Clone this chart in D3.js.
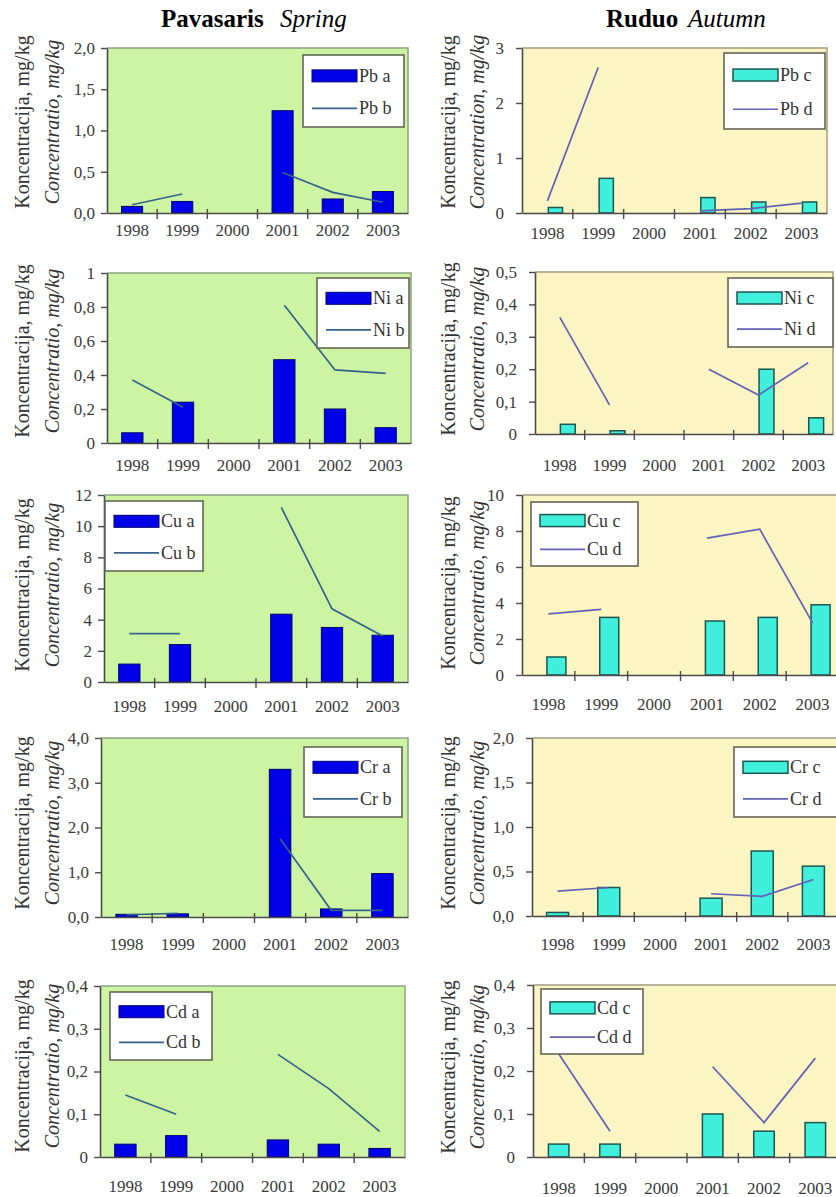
<!DOCTYPE html>
<html><head><meta charset="utf-8">
<script src="https://cdn.jsdelivr.net/npm/d3@7"></script>
<style>
body{margin:0;background:#fff}
svg{display:block}
</style>
</head><body>
<svg id="c" width="836" height="1197"></svg>
<script>
// ---------- DATA ----------
const years = ["1998","1999","2000","2001","2002","2003"];

const pbSpringBars = [0.08, 0.14, null, 1.24, 0.17, 0.26];
const pbSpringLine = [0.10, 0.23, null, 0.49, 0.25, 0.13];
const pbAutumnBars = [0.10, 0.63, null, 0.28, 0.20, 0.20];
const pbAutumnLine = [0.22, 2.65, null, 0.04, 0.08, 0.18];

const niSpringBars = [0.06, 0.24, null, 0.49, 0.20, 0.09];
const niSpringLine = [0.37, 0.21, null, 0.81, 0.43, 0.41];
const niAutumnBars = [0.03, 0.01, null, null, 0.20, 0.05];
const niAutumnLine = [0.36, 0.09, null, 0.20, 0.12, 0.22];

const cuSpringBars = [1.15, 2.4, null, 4.35, 3.5, 3.0];
const cuSpringLine = [3.1, 3.1, null, 11.2, 4.7, 2.95];
const cuAutumnBars = [1.0, 3.2, null, 3.0, 3.2, 3.9];
const cuAutumnLine = [3.4, 3.65, null, 7.6, 8.1, 2.9];

const crSpringBars = [0.06, 0.07, null, 3.3, 0.18, 0.97];
const crSpringLine = [0.05, 0.08, null, 1.75, 0.15, 0.15];
const crAutumnBars = [0.04, 0.32, null, 0.20, 0.73, 0.56];
const crAutumnLine = [0.28, 0.32, null, 0.25, 0.22, 0.41];

const cdSpringBars = [0.03, 0.05, null, 0.04, 0.03, 0.02];
const cdSpringLine = [0.145, 0.10, null, 0.24, 0.16, 0.06];
const cdAutumnBars = [0.03, 0.03, null, 0.10, 0.06, 0.08];
const cdAutumnLine = [0.24, 0.06, null, 0.21, 0.08, 0.23];

const pbSpringTicks = [0, 0.5, 1, 1.5, 2];
const pbSpringTickLabels = ["0,0","0,5","1,0","1,5","2,0"];
const pbAutumnTicks = [0, 1, 2, 3];
const pbAutumnTickLabels = ["0","1","2","3"];
const niSpringTicks = [0, 0.2, 0.4, 0.6, 0.8, 1];
const niSpringTickLabels = ["0","0,2","0,4","0,6","0,8","1"];
const niAutumnTicks = [0, 0.1, 0.2, 0.3, 0.4, 0.5];
const niAutumnTickLabels = ["0","0,1","0,2","0,3","0,4","0,5"];
const cuSpringTicks = [0, 2, 4, 6, 8, 10, 12];
const cuSpringTickLabels = ["0","2","4","6","8","10","12"];
const cuAutumnTicks = [0, 2, 4, 6, 8, 10];
const cuAutumnTickLabels = ["0","2","4","6","8","10"];
const crSpringTicks = [0, 1, 2, 3, 4];
const crSpringTickLabels = ["0,0","1,0","2,0","3,0","4,0"];
const crAutumnTicks = [0, 0.5, 1, 1.5, 2];
const crAutumnTickLabels = ["0,0","0,5","1,0","1,5","2,0"];
const cdTicks = [0, 0.1, 0.2, 0.3, 0.4];
const cdTickLabels = ["0","0,1","0,2","0,3","0,4"];

const seriesNames = {
  spring: [["Pb a","Pb b"],["Ni a","Ni b"],["Cu a","Cu b"],["Cr a","Cr b"],["Cd a","Cd b"]],
  autumn: [["Pb c","Pb d"],["Ni c","Ni d"],["Cu c","Cu d"],["Cr c","Cr d"],["Cd c","Cd d"]]
};
const yTitle1 = "Koncentracija, mg/kg";
const yTitle2 = "Concentratio, mg/kg";
const yTitle2Pb = "Concentration, mg/kg";

// ---------- PANELS ----------
const panels = [
  {col:0, bars:pbSpringBars, line:pbSpringLine, names:seriesNames.spring[0], max:2,   ticks:pbSpringTicks, labels:pbSpringTickLabels, t2:yTitle2},
  {col:1, bars:pbAutumnBars, line:pbAutumnLine, names:seriesNames.autumn[0], max:3,   ticks:pbAutumnTicks, labels:pbAutumnTickLabels, t2:yTitle2Pb},
  {col:0, bars:niSpringBars, line:niSpringLine, names:seriesNames.spring[1], max:1,   ticks:niSpringTicks, labels:niSpringTickLabels, t2:yTitle2},
  {col:1, bars:niAutumnBars, line:niAutumnLine, names:seriesNames.autumn[1], max:0.5, ticks:niAutumnTicks, labels:niAutumnTickLabels, t2:yTitle2},
  {col:0, bars:cuSpringBars, line:cuSpringLine, names:seriesNames.spring[2], max:12,  ticks:cuSpringTicks, labels:cuSpringTickLabels, t2:yTitle2},
  {col:1, bars:cuAutumnBars, line:cuAutumnLine, names:seriesNames.autumn[2], max:10,  ticks:cuAutumnTicks, labels:cuAutumnTickLabels, t2:yTitle2},
  {col:0, bars:crSpringBars, line:crSpringLine, names:seriesNames.spring[3], max:4,   ticks:crSpringTicks, labels:crSpringTickLabels, t2:yTitle2},
  {col:1, bars:crAutumnBars, line:crAutumnLine, names:seriesNames.autumn[3], max:2,   ticks:crAutumnTicks, labels:crAutumnTickLabels, t2:yTitle2},
  {col:0, bars:cdSpringBars, line:cdSpringLine, names:seriesNames.spring[4], max:0.4, ticks:cdTicks, labels:cdTickLabels, t2:yTitle2},
  {col:1, bars:cdAutumnBars, line:cdAutumnLine, names:seriesNames.autumn[4], max:0.4, ticks:cdTicks, labels:cdTickLabels, t2:yTitle2}
];

// layout (pixel geometry per panel)
const frames = [
  {x0:107, x1:408, y0:48,  y1:213,  lg:[303,55,101,72],  lab:23, bw:0.42, shift:0, tc:122},
  {x0:522, x1:827, y0:48,  y1:213,  lg:[724,53,101,76],  lab:26, bw:0.28, shift:8, tc:122},
  {x0:107, x1:411, y0:273, y1:443,  lg:[317,278,92,70],  lab:28, bw:0.42, shift:0, tc:351},
  {x0:535, x1:833, y0:272, y1:434,  lg:[728,278,105,69], lab:37, bw:0.30, shift:8, tc:349},
  {x0:104, x1:408, y0:495, y1:682,  lg:[105,501,98,70],  lab:30, bw:0.42, shift:0, tc:585},
  {x0:522, x1:839, y0:495, y1:675,  lg:[531,502,107,64], lab:35, bw:0.36, shift:8, tc:583},
  {x0:101, x1:408, y0:738, y1:917,  lg:[304,747,98,70],  lab:33, bw:0.42, shift:0, tc:823},
  {x0:532, x1:839, y0:738, y1:916,  lg:[734,747,106,70], lab:34, bw:0.43, shift:0, tc:823},
  {x0:100, x1:405, y0:986, y1:1157, lg:[110,992,102,68], lab:35, bw:0.42, shift:0, tc:1066},
  {x0:533, x1:841, y0:985, y1:1157, lg:[541,989,102,65], lab:37, bw:0.40, shift:0, tc:1067}
];

const styles = [
  {bg:"#ccf4a2", border:"#8fa184", barFill:"#0000e8", barStroke:"#00006e", barSW:1, line:"#34648c", yt:[29,59]},
  {bg:"#fbf5c4", border:"#a29c80", barFill:"#40f0dc", barStroke:"#1d5650", barSW:1.5, line:"#6262b6", yt:[455,484]}
];
const SERIF = "Liberation Serif, Times New Roman, serif";

const svg = d3.select("#c").style("font-family", SERIF);

// titles
const t1 = svg.append("text").attr("y", 27).attr("font-size", 25).attr("fill", "#000");
t1.append("tspan").attr("x", 161).attr("font-weight", "bold").text("Pavasaris");
t1.append("tspan").attr("x", 280).attr("font-style", "italic").text("Spring");
const t2 = svg.append("text").attr("y", 27).attr("font-size", 25).attr("fill", "#000");
t2.append("tspan").attr("x", 606).attr("font-weight", "bold").text("Ruduo");
t2.append("tspan").attr("x", 688).attr("font-style", "italic").text("Autumn");

panels.forEach((p, i) => {
  const f = frames[i], s = styles[p.col];
  const g = svg.append("g");
  const x = d3.scaleBand().domain(years).range([f.x0, f.x1]);
  const y = d3.scaleLinear().domain([0, p.max]).range([f.y1, f.y0]);
  const bw = x.bandwidth() * f.bw;

  // plot area
  g.append("rect").attr("x", f.x0).attr("y", f.y0).attr("width", f.x1 - f.x0).attr("height", f.y1 - f.y0)
    .attr("fill", s.bg);
  g.append("path").attr("d", `M${f.x0},${f.y0}H${f.x1}V${f.y1}`).attr("fill", "none")
    .attr("stroke", s.border).attr("stroke-width", 1.5);

  // bars
  const barData = years.map((yr, k) => ({yr, v: p.bars[k]})).filter(d => d.v != null);
  g.selectAll("rect.bar").data(barData).join("rect").attr("class", "bar")
    .attr("x", d => x(d.yr) + (x.bandwidth() - bw) / 2 + f.shift)
    .attr("width", bw)
    .attr("y", d => y(d.v))
    .attr("height", d => y(0) - y(d.v))
    .attr("fill", s.barFill).attr("stroke", s.barStroke).attr("stroke-width", s.barSW);

  // line
  const lineData = years.map((yr, k) => ({yr, v: p.line[k]}));
  const ln = d3.line().defined(d => d.v != null)
    .x(d => x(d.yr) + x.bandwidth() / 2).y(d => y(d.v));
  g.append("path").datum(lineData).attr("d", ln).attr("fill", "none")
    .attr("stroke", s.line).attr("stroke-width", 1.7);

  // y axis
  const ya = g.append("g").attr("transform", `translate(${f.x0},0)`)
    .call(d3.axisLeft(y).tickValues(p.ticks).tickFormat((d, k) => p.labels[k])
      .tickSize(6).tickSizeOuter(0).tickPadding(p.col ? 12 : 6));
  ya.attr("font-family", SERIF);
  ya.select(".domain").attr("stroke", "#4a4a4a").attr("stroke-width", 1.6);
  ya.selectAll(".tick line").attr("stroke", "#4a4a4a").attr("stroke-width", 1.4);
  ya.selectAll(".tick text").attr("font-size", 17).attr("fill", "#3a3a3a").style("font-family", SERIF);

  // x axis
  const xa = g.append("g").attr("transform", `translate(0,${f.y1})`)
    .call(d3.axisBottom(x).tickSize(0).tickSizeOuter(0).tickPadding(f.lab - 12));
  xa.attr("font-family", SERIF);
  xa.select(".domain").attr("stroke", "#4a4a4a").attr("stroke-width", 1.6);
  xa.selectAll(".tick text").attr("font-size", 17).attr("fill", "#3a3a3a").style("font-family", SERIF);
  g.selectAll("line.bt").data(years.slice(1)).join("line").attr("class", "bt")
    .attr("x1", d => x(d)).attr("x2", d => x(d))
    .attr("y1", f.y1 - 4).attr("y2", f.y1 + 6)
    .attr("stroke", "#4a4a4a").attr("stroke-width", 1.4);

  // y titles
  const yt = g.append("g").attr("font-size", 20).attr("fill", "#333");
  yt.append("text").attr("transform", `translate(${s.yt[0]},${f.tc}) rotate(-90)`)
    .attr("text-anchor", "middle").style("font-family", SERIF).text(yTitle1);
  yt.append("text").attr("transform", `translate(${s.yt[1]},${f.tc}) rotate(-90)`)
    .attr("text-anchor", "middle").attr("font-style", "italic").style("font-family", SERIF).text(p.t2);

  // legend
  const [lx, ly, lw, lh] = f.lg;
  const lg = g.append("g");
  lg.append("rect").attr("x", lx).attr("y", ly).attr("width", lw).attr("height", lh)
    .attr("fill", "#fff").attr("stroke", "#666658").attr("stroke-width", 1.6);
  const r1 = ly + lh * 0.29, r2 = ly + lh * 0.74;
  lg.append("rect").attr("x", lx + 9).attr("y", r1 - 6).attr("width", 45).attr("height", 12)
    .attr("fill", s.barFill).attr("stroke", s.barStroke).attr("stroke-width", s.barSW);
  lg.append("line").attr("x1", lx + 9).attr("x2", lx + 54).attr("y1", r2).attr("y2", r2)
    .attr("stroke", s.line).attr("stroke-width", 1.7);
  lg.append("text").attr("x", lx + 56).attr("y", r1 + 6).attr("font-size", 18).attr("fill", "#333").text(p.names[0]);
  lg.append("text").attr("x", lx + 56).attr("y", r2 + 6).attr("font-size", 18).attr("fill", "#333").text(p.names[1]);
});
</script>
</body></html>
